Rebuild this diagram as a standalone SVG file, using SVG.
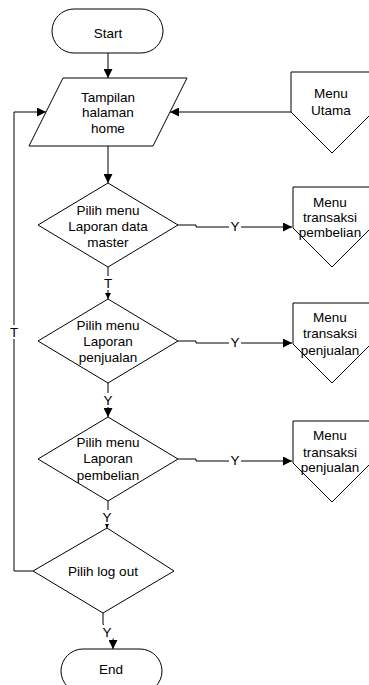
<svg xmlns="http://www.w3.org/2000/svg" width="369" height="685" viewBox="0 0 369 685">
  <style>
    .shape { fill: #ffffff; stroke: #000000; stroke-width: 1; }
    .line { fill: none; stroke: #000000; stroke-width: 1; }
    .label { font-family: "Liberation Sans", Arial, sans-serif; font-size: 13.5px; fill: #000000; text-anchor: middle; }
    .gap { fill: #ffffff; stroke: none; }
  </style>
  <defs>
    <marker id="arrow" viewBox="0 0 10 10" refX="10" refY="5" markerWidth="9" markerHeight="9" markerUnits="userSpaceOnUse" orient="auto">
      <path d="M0,0 L10,5 L0,10 Z" fill="#000000"/>
    </marker>
    <marker id="arrow-sm" viewBox="0 0 10 10" refX="10" refY="5" markerWidth="6" markerHeight="6" markerUnits="userSpaceOnUse" orient="auto">
      <path d="M0,0 L10,5 L0,10 Z" fill="#000000"/>
    </marker>
  </defs>

  <rect width="369" height="685" fill="#ffffff"/>

  <!-- connectors -->
  <g id="connectors">
    <path class="line" d="M108,53 V78" marker-end="url(#arrow)"/>
    <path class="line" d="M108,146 V183" marker-end="url(#arrow)"/>
    <path class="line" d="M291,112 H170" marker-end="url(#arrow)"/>
    <path class="line" d="M33,571 H14 V112 H46" marker-end="url(#arrow)"/>
    <path class="line" d="M178,225 H196 V227 H292" marker-end="url(#arrow)"/>
    <path class="line" d="M178,341 H196 V343 H292" marker-end="url(#arrow)"/>
    <path class="line" d="M178,459 H196 V461 H292" marker-end="url(#arrow)"/>
    <path class="line" d="M108,267 V299" marker-end="url(#arrow-sm)"/>
    <path class="line" d="M108,383 V417" marker-end="url(#arrow)"/>
    <path class="line" d="M108,501 V510 L107,520 V528" marker-end="url(#arrow)"/>
    <path class="line" d="M103,613 V624 L113,638 V649" marker-end="url(#arrow)"/>

    <!-- connector labels -->
    <rect class="gap" x="8" y="325" width="12" height="14"/>
    <text class="label" x="14" y="337">T</text>
    <rect class="gap" x="229" y="219" width="12" height="14"/>
    <text class="label" x="235" y="231">Y</text>
    <rect class="gap" x="229" y="335" width="12" height="14"/>
    <text class="label" x="235" y="347">Y</text>
    <rect class="gap" x="229" y="453" width="12" height="14"/>
    <text class="label" x="235" y="465">Y</text>
    <rect class="gap" x="102" y="276" width="12" height="14"/>
    <text class="label" x="108" y="288">T</text>
    <rect class="gap" x="102" y="393" width="12" height="14"/>
    <text class="label" x="108" y="405">Y</text>
    <rect class="gap" x="101" y="510" width="12" height="14"/>
    <text class="label" x="107" y="522">Y</text>
    <rect class="gap" x="101" y="625" width="12" height="14"/>
    <text class="label" x="107" y="637">Y</text>
  </g>

  <!-- Start terminal -->
  <g id="start">
    <rect class="shape" x="52" y="9" width="111" height="44" rx="22" ry="22"/>
    <text class="label" x="108" y="38">Start</text>
  </g>

  <!-- Home page display -->
  <g id="home">
    <polygon class="shape" points="63,78 187,78 153,146 29,146"/>
    <text class="label" x="108" y="102">Tampilan</text>
    <text class="label" x="108" y="117">halaman</text>
    <text class="label" x="108" y="133">home</text>
  </g>

  <!-- Main menu off-page reference -->
  <g id="menu-utama">
    <polygon class="shape" points="291,72 373,72 373,112 332,153 291,112"/>
    <text class="label" x="331" y="98">Menu</text>
    <text class="label" x="331" y="115">Utama</text>
  </g>

  <!-- Decision: master data report -->
  <g id="decision-master">
    <polygon class="shape" points="108,183 178,225 108,267 38,225"/>
    <text class="label" x="108" y="215">Pilih menu</text>
    <text class="label" x="108" y="231">Laporan data</text>
    <text class="label" x="108" y="247">master</text>
  </g>

  <g id="menu-pembelian">
    <polygon class="shape" points="293,187 371,187 371,228 332,267 293,228"/>
    <text class="label" x="330" y="207">Menu</text>
    <text class="label" x="330" y="222">transaksi</text>
    <text class="label" x="330" y="237">pembelian</text>
  </g>

  <!-- Decision: sales report -->
  <g id="decision-penjualan">
    <polygon class="shape" points="108,299 178,341 108,383 38,341"/>
    <text class="label" x="108" y="330">Pilih menu</text>
    <text class="label" x="108" y="346">Laporan</text>
    <text class="label" x="108" y="362">penjualan</text>
  </g>

  <g id="menu-penjualan-1">
    <polygon class="shape" points="293,303 371,303 371,344 332,383 293,344"/>
    <text class="label" x="330" y="322">Menu</text>
    <text class="label" x="330" y="338">transaksi</text>
    <text class="label" x="330" y="355">penjualan</text>
  </g>

  <!-- Decision: purchase report -->
  <g id="decision-pembelian">
    <polygon class="shape" points="108,417 178,459 108,501 38,459"/>
    <text class="label" x="108" y="447">Pilih menu</text>
    <text class="label" x="108" y="463">Laporan</text>
    <text class="label" x="108" y="480">pembelian</text>
  </g>

  <g id="menu-penjualan-2">
    <polygon class="shape" points="293,421 371,421 371,463 332,502 293,463"/>
    <text class="label" x="330" y="440">Menu</text>
    <text class="label" x="330" y="457">transaksi</text>
    <text class="label" x="330" y="472">penjualan</text>
  </g>

  <!-- Decision: log out -->
  <g id="decision-logout">
    <polygon class="shape" points="107,528 174,571 103,613 33,571"/>
    <text class="label" x="103" y="576">Pilih log out</text>
  </g>

  <!-- End terminal -->
  <g id="end">
    <rect class="shape" x="61" y="649" width="101" height="44" rx="22" ry="22"/>
    <text class="label" x="111" y="674">End</text>
  </g>
</svg>
